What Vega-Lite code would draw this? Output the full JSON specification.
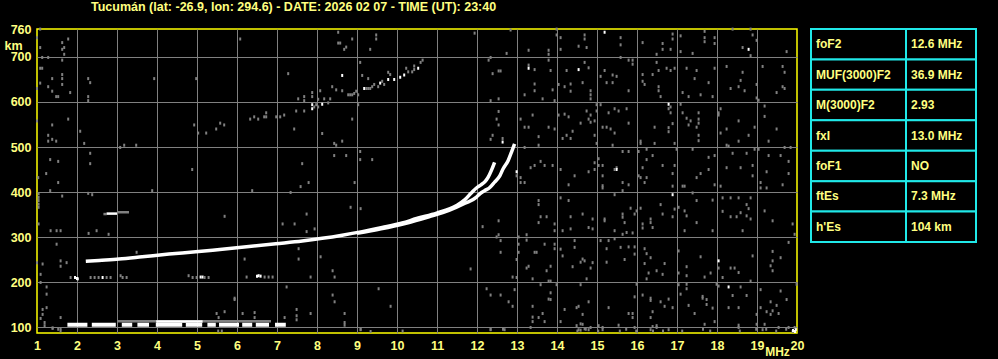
{
  "$schema": "https://vega.github.io/schema/vega-lite/v6.json",
  "background": "#000000",
  "autosize": {"type": "none"},
  "padding": {"left": 37, "top": 29, "right": 961, "bottom": 330},
  "config": {
    "view": {"stroke": null},
    "font": "Liberation Sans",
    "axis": {
      "labelFont": "Liberation Sans", "labelFontWeight": "bold", "labelFontSize": 12.5, "labelColor": "#ffff80",
      "titleFont": "Liberation Sans", "titleFontWeight": "bold", "titleFontSize": 12.5, "titleColor": "#ffff80",
      "gridColor": "#808080", "gridWidth": 1, "ticks": false, "domain": false,
      "labelFlush": false, "labelOverlap": false, "labelBound": false
    }
  },
  "datasets": {
    "table": [
      {"param": "foF2", "value": "12.6 MHz"},
      {"param": "MUF(3000)F2", "value": "36.9 MHz"},
      {"param": "M(3000)F2", "value": "2.93"},
      {"param": "fxI", "value": "13.0 MHz"},
      {"param": "foF1", "value": "NO"},
      {"param": "ftEs", "value": "7.3 MHz"},
      {"param": "h'Es", "value": "104 km"}
    ],
    "traces": [
      {"trace": "F", "seg": "o", "f": 2.22, "h": 246}, {"trace": "F", "seg": "o", "f": 2.55, "h": 248}, {"trace": "F", "seg": "o", "f": 3.05, "h": 251},
      {"trace": "F", "seg": "o", "f": 3.63, "h": 256}, {"trace": "F", "seg": "o", "f": 4.3, "h": 262}, {"trace": "F", "seg": "o", "f": 4.97, "h": 267},
      {"trace": "F", "seg": "o", "f": 5.63, "h": 273}, {"trace": "F", "seg": "o", "f": 6.3, "h": 279}, {"trace": "F", "seg": "o", "f": 6.97, "h": 285},
      {"trace": "F", "seg": "o", "f": 7.63, "h": 291}, {"trace": "F", "seg": "o", "f": 8.13, "h": 297}, {"trace": "F", "seg": "o", "f": 8.63, "h": 304},
      {"trace": "F", "seg": "o", "f": 9.13, "h": 312}, {"trace": "F", "seg": "o", "f": 9.63, "h": 321}, {"trace": "F", "seg": "o", "f": 10.13, "h": 331},
      {"trace": "F", "seg": "o", "f": 10.49, "h": 341}, {"trace": "F", "seg": "o", "f": 10.99, "h": 353}, {"trace": "F", "seg": "o", "f": 11.49, "h": 370},
      {"trace": "F", "seg": "o", "f": 11.7, "h": 383}, {"trace": "F", "seg": "o", "f": 11.85, "h": 397}, {"trace": "F", "seg": "o", "f": 12.0, "h": 410},
      {"trace": "F", "seg": "o", "f": 12.1, "h": 416}, {"trace": "F", "seg": "o", "f": 12.2, "h": 423}, {"trace": "F", "seg": "o", "f": 12.28, "h": 433},
      {"trace": "F", "seg": "o", "f": 12.36, "h": 448}, {"trace": "F", "seg": "o", "f": 12.44, "h": 466},
      {"trace": "F", "seg": "x", "f": 9.0, "h": 308}, {"trace": "F", "seg": "x", "f": 9.6, "h": 318}, {"trace": "F", "seg": "x", "f": 10.2, "h": 330},
      {"trace": "F", "seg": "x", "f": 10.8, "h": 345}, {"trace": "F", "seg": "x", "f": 11.3, "h": 359}, {"trace": "F", "seg": "x", "f": 11.7, "h": 375},
      {"trace": "F", "seg": "x", "f": 11.98, "h": 388}, {"trace": "F", "seg": "x", "f": 12.07, "h": 396}, {"trace": "F", "seg": "x", "f": 12.19, "h": 403},
      {"trace": "F", "seg": "x", "f": 12.32, "h": 410}, {"trace": "F", "seg": "x", "f": 12.44, "h": 422}, {"trace": "F", "seg": "x", "f": 12.57, "h": 436},
      {"trace": "F", "seg": "x", "f": 12.65, "h": 451}, {"trace": "F", "seg": "x", "f": 12.78, "h": 470}, {"trace": "F", "seg": "x", "f": 12.86, "h": 488},
      {"trace": "F", "seg": "x", "f": 12.94, "h": 507},
      {"trace": "Es", "seg": "e1", "f": 1.76, "h": 105}, {"trace": "Es", "seg": "e1", "f": 2.26, "h": 105},
      {"trace": "Es", "seg": "e2", "f": 2.37, "h": 105}, {"trace": "Es", "seg": "e2", "f": 2.97, "h": 105},
      {"trace": "Es", "seg": "e3", "f": 3.12, "h": 105}, {"trace": "Es", "seg": "e3", "f": 3.38, "h": 105},
      {"trace": "Es", "seg": "e4", "f": 3.51, "h": 105}, {"trace": "Es", "seg": "e4", "f": 3.8, "h": 105},
      {"trace": "Es", "seg": "e5", "f": 3.97, "h": 105}, {"trace": "Es", "seg": "e5", "f": 4.63, "h": 105},
      {"trace": "Es", "seg": "e6", "f": 4.72, "h": 105}, {"trace": "Es", "seg": "e6", "f": 5.13, "h": 105},
      {"trace": "Es", "seg": "e7", "f": 5.26, "h": 105}, {"trace": "Es", "seg": "e7", "f": 5.47, "h": 105},
      {"trace": "Es", "seg": "e8", "f": 5.55, "h": 105}, {"trace": "Es", "seg": "e8", "f": 6.05, "h": 105},
      {"trace": "Es", "seg": "e9", "f": 6.13, "h": 105}, {"trace": "Es", "seg": "e9", "f": 6.38, "h": 105},
      {"trace": "Es", "seg": "e10", "f": 6.47, "h": 105}, {"trace": "Es", "seg": "e10", "f": 6.8, "h": 105},
      {"trace": "Es", "seg": "e11", "f": 6.95, "h": 105}, {"trace": "Es", "seg": "e11", "f": 7.22, "h": 105},
      {"trace": "grey", "seg": "g1", "f": 3.0, "h": 113}, {"trace": "grey", "seg": "g1", "f": 6.85, "h": 113},
      {"trace": "grey", "seg": "g2", "f": 2.66, "h": 351}, {"trace": "grey", "seg": "g2", "f": 2.74, "h": 351},
      {"trace": "grey", "seg": "g3", "f": 3.0, "h": 355}, {"trace": "grey", "seg": "g3", "f": 3.3, "h": 355},
      {"trace": "white", "seg": "w1", "f": 3.98, "h": 112}, {"trace": "white", "seg": "w1", "f": 5.14, "h": 112},
      {"trace": "white", "seg": "w2", "f": 2.74, "h": 352}, {"trace": "white", "seg": "w2", "f": 3.0, "h": 352}
    ],
    "dots": [
      {"f":1.08,"h":762,"type":"noise"},{"f":1.0,"h":743,"type":"noise"},{"f":1.63,"h":732,"type":"noise"},{"f":1.63,"h":717,"type":"noise"},{"f":1.68,"h":721,"type":"noise"},{"f":1.78,"h":740,"type":"noise"},{"f":1.68,"h":706,"type":"noise"},{"f":1.08,"h":721,"type":"noise"},{"f":1.13,"h":699,"type":"noise"},{"f":1.28,"h":699,"type":"noise"},{"f":1.63,"h":693,"type":"noise"},{"f":1.08,"h":675,"type":"noise"},{"f":1.13,"h":675,"type":"noise"},{"f":1.38,"h":652,"type":"noise"},{"f":1.63,"h":661,"type":"noise"},{"f":1.63,"h":652,"type":"noise"},{"f":1.63,"h":639,"type":"noise"},{"f":1.08,"h":642,"type":"noise"},{"f":1.28,"h":634,"type":"noise"},{"f":1.38,"h":624,"type":"noise"},{"f":1.48,"h":612,"type":"noise"},{"f":1.53,"h":612,"type":"noise"},{"f":1.83,"h":621,"type":"noise"},{"f":1.0,"h":630,"type":"noise"},{"f":2.28,"h":652,"type":"noise"},{"f":2.33,"h":643,"type":"noise"},{"f":2.28,"h":612,"type":"noise"},{"f":2.28,"h":603,"type":"noise"},{"f":3.93,"h":652,"type":"noise"},{"f":4.98,"h":652,"type":"noise"},{"f":6.08,"h":740,"type":"noise"},{"f":7.28,"h":663,"type":"noise"},{"f":8.53,"h":755,"type":"noise"},{"f":8.53,"h":731,"type":"noise"},{"f":8.58,"h":731,"type":"noise"},{"f":8.73,"h":722,"type":"noise"},{"f":8.68,"h":717,"type":"noise"},{"f":8.88,"h":740,"type":"noise"},{"f":9.48,"h":749,"type":"noise"},{"f":9.48,"h":740,"type":"noise"},{"f":9.33,"h":717,"type":"noise"},{"f":9.08,"h":688,"type":"noise"},{"f":9.13,"h":659,"type":"noise"},{"f":9.28,"h":652,"type":"noise"},{"f":9.38,"h":634,"type":"noise"},{"f":9.53,"h":634,"type":"noise"},{"f":9.63,"h":646,"type":"noise"},{"f":9.78,"h":666,"type":"noise"},{"f":10.23,"h":675,"type":"noise"},{"f":10.43,"h":680,"type":"noise"},
      {"f":8.63,"h":659,"type":"echo"},{"f":8.38,"h":634,"type":"noise"},{"f":8.48,"h":627,"type":"noise"},{"f":8.63,"h":625,"type":"noise"},{"f":8.78,"h":616,"type":"noise"},{"f":8.83,"h":616,"type":"noise"},{"f":8.88,"h":616,"type":"noise"},{"f":8.93,"h":619,"type":"noise"},{"f":8.98,"h":624,"type":"noise"},{"f":9.03,"h":616,"type":"noise"},{"f":9.18,"h":630,"type":"echo"},{"f":9.23,"h":630,"type":"noise"},{"f":9.28,"h":630,"type":"noise"},{"f":9.33,"h":630,"type":"noise"},{"f":9.43,"h":639,"type":"noise"},{"f":9.58,"h":642,"type":"echo"},{"f":9.68,"h":639,"type":"noise"},{"f":9.78,"h":650,"type":"echo"},{"f":9.83,"h":661,"type":"noise"},{"f":9.93,"h":650,"type":"echo"},{"f":10.08,"h":655,"type":"echo"},{"f":10.18,"h":660,"type":"echo"},{"f":10.28,"h":667,"type":"noise"},{"f":10.38,"h":667,"type":"noise"},{"f":10.43,"h":672,"type":"noise"},{"f":10.53,"h":675,"type":"echo"},{"f":10.59,"h":688,"type":"noise"},{"f":10.64,"h":693,"type":"noise"},
      {"f":7.88,"h":621,"type":"noise"},{"f":7.68,"h":612,"type":"noise"},{"f":7.88,"h":612,"type":"noise"},{"f":8.08,"h":625,"type":"noise"},{"f":7.53,"h":607,"type":"noise"},{"f":7.68,"h":603,"type":"noise"},{"f":8.03,"h":606,"type":"noise"},{"f":8.18,"h":607,"type":"noise"},{"f":8.33,"h":607,"type":"noise"},{"f":8.28,"h":598,"type":"noise"},{"f":7.88,"h":594,"type":"echo"},{"f":7.93,"h":589,"type":"noise"},{"f":7.98,"h":594,"type":"noise"},{"f":8.13,"h":595,"type":"echo"},{"f":7.88,"h":585,"type":"echo"},{"f":8.03,"h":589,"type":"noise"},{"f":9.03,"h":594,"type":"noise"},{"f":7.68,"h":580,"type":"noise"},{"f":7.48,"h":580,"type":"noise"},{"f":7.18,"h":571,"type":"noise"},{"f":7.08,"h":567,"type":"noise"},{"f":6.98,"h":567,"type":"noise"},{"f":6.73,"h":576,"type":"noise"},{"f":6.73,"h":567,"type":"noise"},{"f":6.68,"h":567,"type":"noise"},{"f":6.53,"h":562,"type":"noise"},{"f":6.43,"h":567,"type":"noise"},{"f":6.33,"h":562,"type":"noise"},{"f":7.43,"h":540,"type":"noise"},{"f":8.13,"h":530,"type":"noise"},{"f":8.88,"h":562,"type":"noise"},{"f":1.78,"h":562,"type":"noise"},{"f":1.0,"h":558,"type":"noise"},{"f":1.38,"h":549,"type":"noise"},{"f":2.08,"h":535,"type":"noise"},{"f":1.28,"h":526,"type":"noise"},{"f":1.28,"h":513,"type":"noise"},{"f":1.38,"h":517,"type":"noise"},{"f":1.48,"h":513,"type":"noise"},{"f":2.18,"h":508,"type":"noise"},{"f":3.08,"h":499,"type":"noise"},{"f":3.18,"h":504,"type":"noise"},{"f":3.48,"h":504,"type":"noise"},{"f":4.93,"h":549,"type":"noise"},{"f":5.03,"h":531,"type":"noise"},{"f":5.23,"h":531,"type":"noise"},{"f":5.48,"h":540,"type":"noise"},{"f":5.58,"h":553,"type":"noise"},{"f":5.68,"h":549,"type":"noise"},{"f":8.43,"h":508,"type":"noise"},{"f":8.48,"h":504,"type":"noise"},{"f":8.63,"h":513,"type":"noise"},{"f":2.33,"h":486,"type":"noise"},{"f":2.33,"h":463,"type":"noise"},{"f":1.33,"h":472,"type":"noise"},{"f":1.53,"h":468,"type":"noise"},{"f":9.08,"h":490,"type":"noise"},{"f":9.08,"h":472,"type":"noise"},{"f":8.43,"h":481,"type":"noise"},{"f":8.73,"h":481,"type":"noise"},{"f":9.38,"h":472,"type":"noise"},{"f":7.63,"h":463,"type":"noise"},{"f":4.88,"h":450,"type":"noise"},{"f":1.23,"h":441,"type":"noise"},{"f":1.03,"h":432,"type":"noise"},
      {"f":11.94,"h":753,"type":"noise"},{"f":12.84,"h":760,"type":"noise"},{"f":13.99,"h":762,"type":"noise"},{"f":13.99,"h":749,"type":"noise"},{"f":14.09,"h":743,"type":"noise"},{"f":14.69,"h":749,"type":"noise"},{"f":14.69,"h":740,"type":"noise"},{"f":14.54,"h":724,"type":"noise"},{"f":14.74,"h":721,"type":"noise"},{"f":14.09,"h":717,"type":"noise"},{"f":13.29,"h":715,"type":"noise"},{"f":12.74,"h":708,"type":"noise"},{"f":13.79,"h":715,"type":"noise"},{"f":13.79,"h":706,"type":"noise"},{"f":15.19,"h":755,"type":"echo"},{"f":15.59,"h":743,"type":"noise"},{"f":15.59,"h":727,"type":"noise"},{"f":16.14,"h":732,"type":"noise"},{"f":16.49,"h":706,"type":"noise"},{"f":16.64,"h":730,"type":"noise"},{"f":16.64,"h":717,"type":"noise"},{"f":16.84,"h":717,"type":"noise"},{"f":16.89,"h":751,"type":"noise"},{"f":16.89,"h":740,"type":"noise"},{"f":17.09,"h":747,"type":"noise"},{"f":17.09,"h":712,"type":"noise"},{"f":17.39,"h":708,"type":"noise"},{"f":17.69,"h":757,"type":"noise"},{"f":17.69,"h":743,"type":"noise"},{"f":17.69,"h":734,"type":"noise"},{"f":17.94,"h":743,"type":"noise"},{"f":17.94,"h":730,"type":"noise"},{"f":18.39,"h":762,"type":"noise"},{"f":18.84,"h":762,"type":"noise"},{"f":18.89,"h":749,"type":"noise"},{"f":18.99,"h":737,"type":"noise"},{"f":18.64,"h":721,"type":"noise"},{"f":18.79,"h":717,"type":"echo"},{"f":18.84,"h":703,"type":"noise"},{"f":19.74,"h":712,"type":"noise"},
      {"f":12.29,"h":693,"type":"noise"},{"f":12.34,"h":699,"type":"noise"},{"f":12.39,"h":663,"type":"noise"},{"f":12.54,"h":669,"type":"noise"},{"f":12.59,"h":669,"type":"noise"},{"f":13.29,"h":682,"type":"noise"},{"f":13.29,"h":675,"type":"echo"},{"f":13.44,"h":672,"type":"noise"},{"f":13.44,"h":640,"type":"noise"},{"f":13.44,"h":625,"type":"noise"},{"f":13.84,"h":670,"type":"noise"},{"f":13.79,"h":693,"type":"noise"},{"f":13.89,"h":627,"type":"noise"},{"f":14.54,"h":672,"type":"echo"},{"f":14.69,"h":688,"type":"noise"},{"f":14.79,"h":676,"type":"noise"},{"f":14.24,"h":670,"type":"noise"},{"f":14.64,"h":643,"type":"noise"},{"f":14.34,"h":640,"type":"noise"},{"f":14.19,"h":634,"type":"noise"},{"f":14.34,"h":624,"type":"noise"},{"f":14.04,"h":639,"type":"noise"},{"f":14.84,"h":625,"type":"noise"},{"f":14.84,"h":616,"type":"noise"},{"f":14.84,"h":607,"type":"noise"},{"f":15.19,"h":670,"type":"noise"},{"f":15.09,"h":657,"type":"noise"},{"f":15.24,"h":643,"type":"noise"},{"f":15.39,"h":660,"type":"noise"},{"f":15.49,"h":657,"type":"noise"},{"f":15.39,"h":643,"type":"noise"},{"f":15.79,"h":693,"type":"noise"},{"f":15.89,"h":693,"type":"noise"},{"f":15.89,"h":684,"type":"noise"},{"f":15.59,"h":699,"type":"noise"},{"f":15.79,"h":625,"type":"noise"},{"f":16.14,"h":661,"type":"noise"},{"f":16.14,"h":646,"type":"noise"},{"f":16.19,"h":639,"type":"noise"},{"f":16.49,"h":688,"type":"noise"},{"f":16.54,"h":670,"type":"noise"},{"f":16.74,"h":675,"type":"noise"},{"f":16.39,"h":661,"type":"noise"},{"f":16.54,"h":634,"type":"noise"},{"f":16.54,"h":625,"type":"noise"},{"f":16.59,"h":612,"type":"noise"},{"f":16.84,"h":670,"type":"noise"},{"f":16.94,"h":675,"type":"noise"},{"f":17.24,"h":675,"type":"noise"},{"f":17.49,"h":670,"type":"noise"},{"f":17.44,"h":652,"type":"noise"},{"f":17.79,"h":643,"type":"noise"},{"f":17.94,"h":675,"type":"noise"},{"f":17.14,"h":621,"type":"noise"},{"f":17.29,"h":612,"type":"noise"},{"f":17.59,"h":616,"type":"noise"},{"f":17.89,"h":612,"type":"noise"},{"f":18.24,"h":679,"type":"noise"},{"f":18.64,"h":666,"type":"noise"},{"f":18.59,"h":648,"type":"noise"},{"f":18.54,"h":634,"type":"noise"},{"f":18.69,"h":625,"type":"noise"},{"f":18.34,"h":630,"type":"noise"},{"f":19.14,"h":679,"type":"noise"},{"f":19.64,"h":679,"type":"noise"},{"f":19.69,"h":666,"type":"noise"},{"f":19.64,"h":634,"type":"noise"},{"f":19.69,"h":630,"type":"noise"},{"f":19.49,"h":621,"type":"noise"},{"f":18.99,"h":639,"type":"noise"},{"f":18.99,"h":609,"type":"noise"},{"f":19.04,"h":604,"type":"noise"},
      {"f":12.54,"h":607,"type":"noise"},{"f":12.34,"h":603,"type":"noise"},{"f":13.19,"h":616,"type":"noise"},{"f":13.64,"h":607,"type":"noise"},{"f":13.94,"h":603,"type":"noise"},{"f":14.99,"h":594,"type":"noise"},{"f":14.99,"h":580,"type":"noise"},{"f":15.09,"h":594,"type":"noise"},{"f":15.44,"h":585,"type":"noise"},{"f":15.54,"h":580,"type":"noise"},{"f":15.74,"h":585,"type":"noise"},{"f":15.29,"h":576,"type":"noise"},{"f":14.74,"h":580,"type":"noise"},{"f":14.84,"h":571,"type":"noise"},{"f":14.79,"h":562,"type":"noise"},{"f":14.94,"h":558,"type":"noise"},{"f":14.84,"h":555,"type":"noise"},{"f":14.59,"h":553,"type":"noise"},{"f":14.29,"h":567,"type":"noise"},{"f":14.19,"h":573,"type":"noise"},{"f":14.04,"h":571,"type":"noise"},{"f":14.39,"h":535,"type":"noise"},{"f":14.24,"h":526,"type":"noise"},{"f":14.14,"h":519,"type":"noise"},{"f":14.34,"h":519,"type":"noise"},{"f":13.94,"h":540,"type":"noise"},{"f":13.79,"h":544,"type":"noise"},{"f":13.29,"h":544,"type":"noise"},{"f":13.19,"h":544,"type":"noise"},{"f":13.09,"h":562,"type":"noise"},{"f":13.39,"h":571,"type":"noise"},{"f":13.54,"h":523,"type":"noise"},{"f":13.54,"h":504,"type":"noise"},{"f":12.54,"h":579,"type":"noise"},{"f":12.49,"h":562,"type":"noise"},{"f":12.54,"h":549,"type":"noise"},{"f":12.64,"h":519,"type":"noise"},{"f":12.64,"h":511,"type":"echo"},{"f":12.39,"h":526,"type":"noise"},{"f":12.34,"h":517,"type":"noise"},{"f":15.14,"h":544,"type":"noise"},{"f":15.24,"h":544,"type":"noise"},{"f":15.34,"h":540,"type":"noise"},{"f":15.44,"h":531,"type":"noise"},{"f":14.94,"h":526,"type":"noise"},{"f":14.99,"h":508,"type":"noise"},{"f":15.39,"h":504,"type":"noise"},{"f":15.79,"h":553,"type":"noise"},{"f":16.09,"h":513,"type":"noise"},{"f":16.09,"h":508,"type":"noise"},{"f":16.44,"h":544,"type":"noise"},{"f":16.44,"h":508,"type":"noise"},{"f":16.24,"h":495,"type":"noise"},{"f":16.04,"h":490,"type":"noise"},{"f":16.79,"h":595,"type":"echo"},{"f":16.79,"h":585,"type":"noise"},{"f":16.84,"h":589,"type":"noise"},{"f":16.84,"h":576,"type":"noise"},{"f":16.89,"h":552,"type":"noise"},{"f":16.79,"h":543,"type":"noise"},{"f":16.79,"h":534,"type":"noise"},{"f":17.09,"h":595,"type":"noise"},{"f":17.14,"h":576,"type":"noise"},{"f":17.24,"h":564,"type":"noise"},{"f":17.34,"h":558,"type":"noise"},{"f":17.29,"h":549,"type":"noise"},{"f":17.54,"h":576,"type":"noise"},{"f":17.54,"h":562,"type":"noise"},{"f":17.54,"h":553,"type":"noise"},{"f":17.54,"h":526,"type":"noise"},{"f":17.54,"h":514,"type":"noise"},{"f":17.49,"h":544,"type":"noise"},{"f":16.94,"h":508,"type":"noise"},{"f":16.99,"h":495,"type":"noise"},{"f":17.39,"h":495,"type":"noise"},{"f":18.04,"h":576,"type":"noise"},{"f":18.09,"h":585,"type":"noise"},{"f":18.04,"h":571,"type":"noise"},{"f":18.24,"h":540,"type":"noise"},{"f":18.09,"h":531,"type":"noise"},{"f":18.79,"h":526,"type":"noise"},{"f":18.54,"h":558,"type":"noise"},{"f":18.54,"h":513,"type":"noise"},{"f":18.24,"h":504,"type":"noise"},{"f":18.29,"h":502,"type":"noise"},{"f":18.94,"h":544,"type":"noise"},{"f":19.19,"h":591,"type":"noise"},{"f":19.19,"h":568,"type":"noise"},{"f":19.49,"h":540,"type":"noise"},{"f":19.29,"h":513,"type":"noise"},{"f":19.69,"h":499,"type":"noise"},{"f":19.04,"h":495,"type":"noise"},{"f":18.94,"h":495,"type":"noise"},
      {"f":18.39,"h":486,"type":"noise"},{"f":18.74,"h":486,"type":"noise"},{"f":19.29,"h":481,"type":"noise"},{"f":19.59,"h":481,"type":"noise"},{"f":19.79,"h":468,"type":"noise"},{"f":18.89,"h":459,"type":"noise"},{"f":18.59,"h":454,"type":"noise"},{"f":18.24,"h":454,"type":"noise"},{"f":19.24,"h":445,"type":"noise"},{"f":18.89,"h":436,"type":"noise"},{"f":19.79,"h":441,"type":"noise"},{"f":19.84,"h":499,"type":"noise"},{"f":17.94,"h":481,"type":"noise"},{"f":17.79,"h":477,"type":"noise"},{"f":17.79,"h":450,"type":"noise"},{"f":17.59,"h":441,"type":"noise"},{"f":17.49,"h":432,"type":"noise"},{"f":16.94,"h":459,"type":"noise"},{"f":16.89,"h":441,"type":"noise"},{"f":16.64,"h":459,"type":"noise"},{"f":16.39,"h":481,"type":"noise"},{"f":16.24,"h":472,"type":"noise"},{"f":16.14,"h":454,"type":"noise"},{"f":16.04,"h":436,"type":"noise"},{"f":16.09,"h":432,"type":"noise"},{"f":16.24,"h":432,"type":"noise"},{"f":15.64,"h":490,"type":"noise"},{"f":15.79,"h":490,"type":"noise"},{"f":15.49,"h":454,"type":"noise"},{"f":15.49,"h":450,"type":"echo"},{"f":15.44,"h":450,"type":"noise"},{"f":15.14,"h":459,"type":"noise"},{"f":15.14,"h":436,"type":"noise"},{"f":15.04,"h":474,"type":"noise"},{"f":15.04,"h":459,"type":"noise"},{"f":14.94,"h":465,"type":"noise"},{"f":14.94,"h":450,"type":"noise"},{"f":14.79,"h":445,"type":"noise"},{"f":14.44,"h":436,"type":"noise"},{"f":14.09,"h":450,"type":"noise"},{"f":13.89,"h":459,"type":"noise"},{"f":13.69,"h":459,"type":"noise"},{"f":13.59,"h":468,"type":"noise"},{"f":13.44,"h":459,"type":"noise"},{"f":13.34,"h":454,"type":"noise"},{"f":13.09,"h":432,"type":"noise"},{"f":13.19,"h":499,"type":"noise"},{"f":12.99,"h":445,"type":"echo"},{"f":12.99,"h":436,"type":"noise"},
      {"f":1.53,"h":421,"type":"noise"},{"f":1.33,"h":403,"type":"noise"},{"f":1.63,"h":391,"type":"noise"},{"f":2.28,"h":397,"type":"noise"},{"f":2.38,"h":394,"type":"noise"},{"f":3.88,"h":403,"type":"noise"},{"f":6.38,"h":403,"type":"noise"},{"f":7.34,"h":399,"type":"noise"},{"f":7.59,"h":412,"type":"noise"},{"f":7.79,"h":421,"type":"noise"},{"f":8.94,"h":421,"type":"noise"},{"f":1.04,"h":396,"type":"noise"},{"f":1.04,"h":388,"type":"noise"},{"f":1.04,"h":381,"type":"noise"},{"f":1.04,"h":373,"type":"noise"},{"f":1.04,"h":366,"type":"noise"},{"f":1.04,"h":329,"type":"noise"},{"f":1.34,"h":314,"type":"noise"},{"f":1.49,"h":314,"type":"noise"},{"f":1.59,"h":314,"type":"noise"},{"f":2.29,"h":308,"type":"noise"},{"f":2.49,"h":314,"type":"noise"},{"f":2.79,"h":306,"type":"noise"},{"f":5.69,"h":346,"type":"noise"},{"f":7.14,"h":329,"type":"noise"},{"f":7.44,"h":329,"type":"noise"},{"f":7.74,"h":351,"type":"noise"},{"f":7.94,"h":318,"type":"noise"},{"f":7.74,"h":312,"type":"noise"},{"f":8.84,"h":366,"type":"noise"},{"f":9.09,"h":363,"type":"noise"},{"f":1.49,"h":284,"type":"noise"},{"f":1.59,"h":247,"type":"noise"},{"f":1.74,"h":243,"type":"noise"},{"f":1.59,"h":235,"type":"noise"},{"f":1.14,"h":240,"type":"noise"},{"f":1.0,"h":243,"type":"noise"},{"f":1.09,"h":217,"type":"noise"},{"f":3.49,"h":266,"type":"noise"},{"f":6.19,"h":251,"type":"noise"},{"f":7.54,"h":274,"type":"noise"},{"f":7.54,"h":251,"type":"noise"},{"f":8.09,"h":256,"type":"noise"},{"f":8.39,"h":225,"type":"noise"},{"f":8.44,"h":211,"type":"noise"},{"f":7.84,"h":211,"type":"noise"},{"f":6.24,"h":211,"type":"noise"},{"f":1.09,"h":199,"type":"noise"},{"f":1.24,"h":189,"type":"noise"},{"f":1.24,"h":173,"type":"noise"},{"f":1.24,"h":143,"type":"noise"},{"f":1.14,"h":139,"type":"noise"},{"f":1.14,"h":128,"type":"noise"},{"f":1.09,"h":119,"type":"noise"},{"f":1.59,"h":121,"type":"noise"},{"f":1.39,"h":98,"type":"noise"},{"f":1.59,"h":96,"type":"noise"},{"f":1.19,"h":103,"type":"noise"},{"f":5.94,"h":164,"type":"noise"},{"f":5.94,"h":161,"type":"noise"},{"f":7.24,"h":189,"type":"noise"},{"f":9.54,"h":185,"type":"noise"},{"f":8.39,"h":171,"type":"noise"},{"f":8.44,"h":156,"type":"noise"},{"f":9.84,"h":146,"type":"noise"},{"f":7.49,"h":139,"type":"noise"},{"f":7.49,"h":125,"type":"noise"},{"f":7.49,"h":116,"type":"noise"},{"f":7.84,"h":130,"type":"noise"},{"f":8.69,"h":130,"type":"noise"},{"f":8.69,"h":104,"type":"noise"},{"f":9.09,"h":94,"type":"noise"},{"f":9.34,"h":90,"type":"noise"},{"f":7.19,"h":121,"type":"noise"},{"f":6.44,"h":132,"type":"noise"},{"f":6.44,"h":121,"type":"noise"},{"f":6.14,"h":130,"type":"noise"},{"f":5.69,"h":134,"type":"noise"},{"f":5.49,"h":130,"type":"noise"},{"f":5.54,"h":121,"type":"noise"},
      {"f":1.84,"h":210,"type":"noise"},{"f":1.95,"h":210,"type":"echo"},{"f":2.0,"h":208,"type":"echo"},{"f":2.02,"h":207,"type":"echo"},{"f":2.34,"h":210,"type":"noise"},{"f":2.44,"h":210,"type":"noise"},{"f":2.54,"h":210,"type":"noise"},{"f":2.64,"h":210,"type":"echo"},{"f":2.74,"h":210,"type":"noise"},{"f":2.84,"h":210,"type":"noise"},{"f":3.09,"h":214,"type":"noise"},{"f":3.14,"h":210,"type":"noise"},{"f":3.24,"h":210,"type":"noise"},{"f":4.79,"h":214,"type":"noise"},{"f":4.89,"h":210,"type":"noise"},{"f":4.99,"h":210,"type":"noise"},{"f":5.09,"h":211,"type":"echo"},{"f":5.14,"h":211,"type":"echo"},{"f":5.19,"h":210,"type":"noise"},{"f":5.29,"h":210,"type":"noise"},{"f":6.5,"h":213,"type":"echo"},{"f":6.54,"h":214,"type":"echo"},{"f":6.59,"h":213,"type":"echo"},{"f":6.69,"h":211,"type":"noise"},{"f":6.79,"h":211,"type":"noise"},{"f":6.89,"h":211,"type":"noise"},
      {"f":13.09,"h":421,"type":"noise"},{"f":13.19,"h":421,"type":"noise"},{"f":14.29,"h":416,"type":"noise"},{"f":15.14,"h":414,"type":"noise"},{"f":15.14,"h":409,"type":"noise"},{"f":15.44,"h":394,"type":"noise"},{"f":15.64,"h":403,"type":"noise"},{"f":15.64,"h":421,"type":"noise"},{"f":15.79,"h":416,"type":"noise"},{"f":16.19,"h":421,"type":"noise"},{"f":16.89,"h":413,"type":"noise"},{"f":17.14,"h":413,"type":"noise"},{"f":17.19,"h":413,"type":"noise"},{"f":17.94,"h":416,"type":"noise"},{"f":18.09,"h":413,"type":"noise"},{"f":19.09,"h":421,"type":"noise"},{"f":19.09,"h":409,"type":"noise"},{"f":19.24,"h":409,"type":"noise"},{"f":19.64,"h":416,"type":"noise"},{"f":16.89,"h":394,"type":"echo"},{"f":17.39,"h":398,"type":"noise"},{"f":13.54,"h":381,"type":"noise"},{"f":13.54,"h":372,"type":"noise"},{"f":14.09,"h":387,"type":"noise"},{"f":14.29,"h":381,"type":"noise"},{"f":13.59,"h":345,"type":"noise"},{"f":13.74,"h":345,"type":"noise"},{"f":13.54,"h":332,"type":"noise"},{"f":13.94,"h":329,"type":"noise"},{"f":13.94,"h":314,"type":"noise"},{"f":14.34,"h":345,"type":"noise"},{"f":14.64,"h":351,"type":"noise"},{"f":14.89,"h":340,"type":"noise"},{"f":14.79,"h":321,"type":"noise"},{"f":14.89,"h":318,"type":"noise"},{"f":14.34,"h":318,"type":"noise"},{"f":14.14,"h":314,"type":"noise"},{"f":15.19,"h":340,"type":"noise"},{"f":15.19,"h":336,"type":"noise"},{"f":15.44,"h":314,"type":"noise"},{"f":15.64,"h":351,"type":"noise"},{"f":15.64,"h":344,"type":"noise"},{"f":15.69,"h":332,"type":"noise"},{"f":15.74,"h":310,"type":"noise"},{"f":15.64,"h":306,"type":"noise"},{"f":15.84,"h":364,"type":"noise"},{"f":15.94,"h":351,"type":"noise"},{"f":15.99,"h":358,"type":"noise"},{"f":15.89,"h":309,"type":"noise"},{"f":16.09,"h":364,"type":"noise"},{"f":16.14,"h":329,"type":"noise"},{"f":16.34,"h":340,"type":"noise"},{"f":16.34,"h":332,"type":"noise"},{"f":16.39,"h":321,"type":"noise"},{"f":16.14,"h":320,"type":"noise"},{"f":16.59,"h":372,"type":"noise"},{"f":16.64,"h":351,"type":"noise"},{"f":16.94,"h":362,"type":"noise"},{"f":17.04,"h":366,"type":"noise"},{"f":17.19,"h":358,"type":"noise"},{"f":17.24,"h":347,"type":"noise"},{"f":16.89,"h":345,"type":"noise"},{"f":17.19,"h":314,"type":"noise"},{"f":17.49,"h":332,"type":"noise"},{"f":17.49,"h":381,"type":"noise"},{"f":17.89,"h":382,"type":"noise"},{"f":17.89,"h":314,"type":"noise"},{"f":18.14,"h":357,"type":"noise"},{"f":18.34,"h":345,"type":"noise"},{"f":18.49,"h":345,"type":"noise"},{"f":18.59,"h":354,"type":"noise"},{"f":18.74,"h":347,"type":"noise"},{"f":18.74,"h":372,"type":"noise"},{"f":18.79,"h":363,"type":"noise"},{"f":18.84,"h":340,"type":"noise"},{"f":19.19,"h":358,"type":"noise"},{"f":19.39,"h":336,"type":"noise"},{"f":19.89,"h":329,"type":"noise"},{"f":19.94,"h":306,"type":"noise"},{"f":18.64,"h":314,"type":"noise"},{"f":18.14,"h":387,"type":"noise"},{"f":18.34,"h":387,"type":"noise"},{"f":18.54,"h":387,"type":"noise"},{"f":18.84,"h":387,"type":"noise"},
      {"f":12.14,"h":323,"type":"noise"},{"f":12.54,"h":336,"type":"noise"},{"f":12.54,"h":305,"type":"noise"},{"f":12.49,"h":300,"type":"noise"},{"f":12.59,"h":292,"type":"noise"},{"f":11.84,"h":229,"type":"noise"},{"f":12.59,"h":266,"type":"noise"},{"f":13.04,"h":300,"type":"noise"},{"f":13.24,"h":305,"type":"noise"},{"f":13.24,"h":293,"type":"noise"},{"f":13.04,"h":284,"type":"noise"},{"f":13.04,"h":266,"type":"noise"},{"f":12.99,"h":250,"type":"noise"},{"f":13.69,"h":284,"type":"noise"},{"f":13.94,"h":284,"type":"noise"},{"f":13.94,"h":274,"type":"noise"},{"f":14.09,"h":273,"type":"noise"},{"f":14.14,"h":258,"type":"noise"},{"f":13.44,"h":266,"type":"noise"},{"f":13.49,"h":266,"type":"noise"},{"f":13.24,"h":231,"type":"noise"},{"f":13.29,"h":235,"type":"noise"},{"f":13.84,"h":235,"type":"noise"},{"f":13.74,"h":225,"type":"noise"},{"f":14.44,"h":292,"type":"noise"},{"f":14.44,"h":277,"type":"noise"},{"f":14.39,"h":234,"type":"noise"},{"f":14.64,"h":251,"type":"noise"},{"f":14.59,"h":244,"type":"noise"},{"f":14.69,"h":247,"type":"noise"},{"f":14.89,"h":243,"type":"noise"},{"f":14.74,"h":207,"type":"noise"},{"f":14.84,"h":231,"type":"noise"},{"f":15.09,"h":292,"type":"noise"},{"f":15.29,"h":292,"type":"noise"},{"f":15.24,"h":274,"type":"noise"},{"f":15.24,"h":244,"type":"noise"},{"f":15.59,"h":277,"type":"noise"},{"f":15.69,"h":250,"type":"noise"},{"f":15.79,"h":278,"type":"noise"},{"f":15.94,"h":278,"type":"noise"},{"f":15.94,"h":262,"type":"noise"},{"f":15.44,"h":296,"type":"noise"},{"f":16.19,"h":274,"type":"noise"},{"f":16.24,"h":263,"type":"noise"},{"f":16.19,"h":241,"type":"noise"},{"f":16.34,"h":254,"type":"noise"},{"f":16.29,"h":220,"type":"noise"},{"f":16.24,"h":207,"type":"noise"},{"f":16.49,"h":225,"type":"noise"},{"f":16.69,"h":241,"type":"noise"},{"f":16.64,"h":217,"type":"noise"},{"f":17.04,"h":269,"type":"noise"},{"f":17.24,"h":234,"type":"noise"},{"f":17.24,"h":214,"type":"noise"},{"f":17.59,"h":256,"type":"noise"},{"f":17.69,"h":211,"type":"noise"},{"f":17.84,"h":220,"type":"noise"},{"f":17.04,"h":220,"type":"noise"},{"f":18.04,"h":247,"type":"echo"},{"f":18.04,"h":231,"type":"noise"},{"f":18.14,"h":210,"type":"noise"},{"f":18.34,"h":231,"type":"noise"},{"f":18.44,"h":231,"type":"noise"},{"f":18.54,"h":221,"type":"noise"},{"f":18.84,"h":202,"type":"noise"},{"f":18.89,"h":258,"type":"noise"},{"f":19.39,"h":268,"type":"noise"},{"f":19.39,"h":247,"type":"noise"},{"f":19.34,"h":236,"type":"noise"},{"f":19.39,"h":225,"type":"noise"},{"f":19.59,"h":254,"type":"noise"},{"f":19.79,"h":288,"type":"noise"},
      {"f":12.24,"h":185,"type":"noise"},{"f":12.34,"h":171,"type":"noise"},{"f":12.59,"h":171,"type":"noise"},{"f":12.79,"h":156,"type":"noise"},{"f":12.89,"h":146,"type":"noise"},{"f":12.94,"h":183,"type":"noise"},{"f":12.89,"h":211,"type":"noise"},{"f":12.99,"h":210,"type":"noise"},{"f":13.39,"h":207,"type":"noise"},{"f":13.59,"h":194,"type":"noise"},{"f":13.79,"h":202,"type":"noise"},{"f":13.84,"h":176,"type":"noise"},{"f":13.79,"h":162,"type":"noise"},{"f":13.84,"h":161,"type":"noise"},{"f":13.99,"h":194,"type":"noise"},{"f":13.84,"h":202,"type":"noise"},{"f":13.39,"h":146,"type":"noise"},{"f":13.39,"h":122,"type":"noise"},{"f":13.39,"h":112,"type":"noise"},{"f":13.54,"h":121,"type":"noise"},{"f":13.64,"h":130,"type":"noise"},{"f":13.69,"h":112,"type":"noise"},{"f":14.09,"h":112,"type":"noise"},{"f":14.19,"h":139,"type":"noise"},{"f":14.49,"h":143,"type":"noise"},{"f":14.54,"h":146,"type":"noise"},{"f":14.64,"h":128,"type":"noise"},{"f":14.59,"h":194,"type":"noise"},{"f":14.79,"h":156,"type":"noise"},{"f":14.49,"h":103,"type":"noise"},{"f":14.64,"h":106,"type":"noise"},{"f":14.79,"h":94,"type":"noise"},{"f":14.84,"h":99,"type":"noise"},{"f":15.04,"h":103,"type":"noise"},{"f":15.29,"h":143,"type":"noise"},{"f":15.54,"h":104,"type":"noise"},{"f":15.79,"h":130,"type":"noise"},{"f":15.89,"h":130,"type":"noise"},{"f":15.89,"h":121,"type":"noise"},{"f":15.94,"h":167,"type":"noise"},{"f":15.99,"h":195,"type":"noise"},{"f":15.94,"h":99,"type":"noise"},{"f":16.14,"h":171,"type":"noise"},{"f":16.34,"h":164,"type":"noise"},{"f":16.34,"h":159,"type":"noise"},{"f":16.34,"h":121,"type":"noise"},{"f":16.39,"h":134,"type":"noise"},{"f":16.39,"h":101,"type":"noise"},{"f":16.49,"h":103,"type":"noise"},{"f":16.59,"h":156,"type":"noise"},{"f":16.69,"h":146,"type":"noise"},{"f":16.79,"h":162,"type":"noise"},{"f":16.89,"h":143,"type":"noise"},{"f":17.04,"h":194,"type":"noise"},{"f":17.09,"h":173,"type":"noise"},{"f":17.24,"h":195,"type":"noise"},{"f":17.24,"h":185,"type":"noise"},{"f":17.29,"h":148,"type":"noise"},{"f":17.44,"h":130,"type":"noise"},{"f":17.64,"h":168,"type":"noise"},{"f":17.64,"h":164,"type":"noise"},{"f":17.69,"h":106,"type":"noise"},{"f":17.74,"h":161,"type":"noise"},{"f":17.74,"h":150,"type":"noise"},{"f":17.89,"h":142,"type":"noise"},{"f":17.94,"h":112,"type":"noise"},{"f":17.99,"h":195,"type":"noise"},{"f":18.04,"h":191,"type":"noise"},{"f":18.29,"h":189,"type":"echo"},{"f":18.29,"h":143,"type":"noise"},{"f":18.39,"h":170,"type":"noise"},{"f":18.54,"h":143,"type":"noise"},{"f":18.59,"h":189,"type":"noise"},{"f":18.74,"h":170,"type":"noise"},{"f":18.54,"h":104,"type":"noise"},{"f":18.54,"h":99,"type":"noise"},{"f":19.09,"h":183,"type":"noise"},{"f":19.09,"h":143,"type":"noise"},{"f":19.34,"h":156,"type":"noise"},{"f":19.34,"h":128,"type":"noise"},{"f":19.39,"h":136,"type":"noise"},{"f":19.49,"h":148,"type":"noise"},{"f":19.54,"h":130,"type":"noise"},{"f":19.54,"h":99,"type":"noise"},{"f":19.74,"h":161,"type":"noise"},{"f":19.79,"h":99,"type":"noise"},{"f":19.94,"h":99,"type":"noise"},{"f":18.99,"h":128,"type":"noise"},{"f":18.99,"h":106,"type":"noise"},{"f":19.19,"h":106,"type":"noise"},{"f":19.24,"h":134,"type":"noise"},{"f":19.59,"h":180,"type":"noise"},{"f":19.14,"h":94,"type":"noise"},{"f":19.89,"h":90,"type":"noise"},{"f":19.99,"h":195,"type":"noise"},{"f":14.54,"h":94,"type":"noise"},{"f":14.59,"h":93,"type":"noise"},{"f":14.69,"h":96,"type":"noise"},{"f":15.14,"h":94,"type":"noise"},{"f":14.59,"h":107,"type":"noise"},{"f":15.14,"h":99,"type":"noise"},{"f":16.34,"h":94,"type":"noise"},{"f":16.49,"h":99,"type":"noise"},{"f":16.79,"h":94,"type":"noise"},{"f":12.69,"h":94,"type":"noise"},{"f":12.34,"h":94,"type":"noise"},{"f":13.34,"h":99,"type":"noise"},
      {"f":1.19,"h":110,"type":"noise"},{"f":1.39,"h":97,"type":"noise"},{"f":1.53,"h":95,"type":"noise"},{"f":1.59,"h":91,"type":"noise"},{"f":9.09,"h":95,"type":"noise"},{"f":10.14,"h":91,"type":"noise"},{"f":12.34,"h":95,"type":"noise"},{"f":8.69,"h":110,"type":"noise"},{"f":5.53,"h":91,"type":"noise"},{"f":5.62,"h":91,"type":"noise"},{"f":12.65,"h":95,"type":"noise"},{"f":14.51,"h":91,"type":"noise"},{"f":14.72,"h":95,"type":"noise"},{"f":15.03,"h":91,"type":"noise"},{"f":15.57,"h":91,"type":"noise"},{"f":15.73,"h":95,"type":"noise"},{"f":15.98,"h":91,"type":"noise"},{"f":16.4,"h":91,"type":"noise"},{"f":16.65,"h":91,"type":"noise"},{"f":17.13,"h":91,"type":"noise"},{"f":17.65,"h":95,"type":"noise"},{"f":17.83,"h":91,"type":"noise"},{"f":18.57,"h":91,"type":"noise"},{"f":18.98,"h":95,"type":"noise"},{"f":19.23,"h":95,"type":"noise"},{"f":19.48,"h":91,"type":"noise"},{"f":19.73,"h":95,"type":"noise"},{"f":19.9,"h":92,"type":"echo"},{"f":19.95,"h":90,"type":"echo"},{"f":19.97,"h":94,"type":"echo"}
    ]
  },
  "bounds": "flush",
  "spacing": 14,
  "hconcat": [
    {
      "width": 760,
      "height": 304,
      "view": {"stroke": "#ffff00", "strokeWidth": 1.5, "fill": "#000000"},
      "title": {
        "text": "Tucumán (lat: -26.9, lon: 294.6) - DATE: 2026 02 07 - TIME (UT): 23:40",
        "anchor": "start", "frame": "group", "dx": 54, "offset": 10,
        "color": "#ffff80", "font": "Liberation Sans", "fontSize": 12.5, "fontWeight": "bold"
      },
      "encoding": {
        "x": {
          "field": "f", "type": "quantitative",
          "scale": {"domain": [1, 20], "nice": false, "zero": false},
          "axis": {
            "values": [1,2,3,4,5,6,7,8,9,10,11,12,13,14,15,16,17,18,19,20],
            "grid": true,
            "gridOpacity": {"condition": {"test": "datum.value === 1 || datum.value === 20", "value": 0}, "value": 1},
            "labelPadding": 6, "labelBaseline": "top",
            "title": "MHz", "titleFontSize": 12, "titleX": 740, "titleY": 18, "titleAlign": "center", "titleBaseline": "middle"
          }
        },
        "y": {
          "field": "h", "type": "quantitative",
          "scale": {"domain": [86.667, 762.222], "nice": false, "zero": false},
          "axis": {
            "values": [100,200,300,400,500,600,700,760],
            "grid": true,
            "gridOpacity": {"condition": {"test": "datum.value === 760", "value": 0}, "value": 1},
            "labelPadding": 6,
            "title": "km", "titleAngle": 0, "titleX": -24, "titleY": 16, "titleAlign": "center", "titleBaseline": "middle"
          }
        }
      },
      "layer": [
        {
          "data": {"name": "dots"},
          "mark": {"type": "point", "shape": "M-0.5,-0.75H0.5V0.75H-0.5Z", "size": 16, "filled": true, "opacity": 1, "strokeWidth": 0},
          "encoding": {
            "color": {"field": "type", "type": "nominal", "scale": {"domain": ["noise", "echo"], "range": ["#808080", "#ffffff"]}, "legend": null}
          }
        },
        {
          "data": {"name": "traces"},
          "transform": [{"filter": {"field": "trace", "equal": "grey"}}],
          "mark": {"type": "line", "color": "#808080", "strokeWidth": 2.5},
          "encoding": {"detail": {"field": "seg"}}
        },
        {
          "data": {"name": "traces"},
          "transform": [{"filter": {"field": "trace", "equal": "white"}}],
          "mark": {"type": "line", "color": "#ffffff", "strokeWidth": 2.5},
          "encoding": {"detail": {"field": "seg"}}
        },
        {
          "data": {"name": "traces"},
          "transform": [{"filter": {"field": "trace", "equal": "Es"}}],
          "mark": {"type": "line", "color": "#ffffff", "strokeWidth": 4},
          "encoding": {"detail": {"field": "seg"}}
        },
        {
          "data": {"name": "traces"},
          "transform": [{"filter": {"field": "trace", "equal": "F"}}],
          "mark": {"type": "line", "color": "#ffffff", "strokeWidth": 3.5, "interpolate": "monotone"},
          "encoding": {"detail": {"field": "seg"}}
        }
      ]
    },
    {
      "bounds": "flush",
      "spacing": 0,
      "hconcat": [
        {
          "width": 95,
          "height": 213,
          "data": {"name": "table"},
          "encoding": {
            "y": {"field": "param", "type": "nominal", "sort": null, "scale": {"paddingInner": 0, "paddingOuter": 0}, "axis": null}
          },
          "layer": [
            {"mark": {"type": "rect", "fill": "#000000", "stroke": "#20e8e8", "strokeWidth": 2}},
            {
              "mark": {"type": "text", "align": "left", "baseline": "middle", "dx": 5, "color": "#ffff80", "font": "Liberation Sans", "fontSize": 12, "fontWeight": "bold"},
              "encoding": {
                "x": {"datum": 0, "type": "quantitative", "scale": {"domain": [0, 1]}, "axis": null},
                "text": {"field": "param"}
              }
            }
          ]
        },
        {
          "width": 70,
          "height": 213,
          "data": {"name": "table"},
          "encoding": {
            "y": {"field": "param", "type": "nominal", "sort": null, "scale": {"paddingInner": 0, "paddingOuter": 0}, "axis": null}
          },
          "layer": [
            {"mark": {"type": "rect", "fill": "#000000", "stroke": "#20e8e8", "strokeWidth": 2}},
            {
              "mark": {"type": "text", "align": "left", "baseline": "middle", "dx": 5, "color": "#ffff80", "font": "Liberation Sans", "fontSize": 12, "fontWeight": "bold"},
              "encoding": {
                "x": {"datum": 0, "type": "quantitative", "scale": {"domain": [0, 1]}, "axis": null},
                "text": {"field": "value"}
              }
            }
          ]
        }
      ]
    }
  ]
}
